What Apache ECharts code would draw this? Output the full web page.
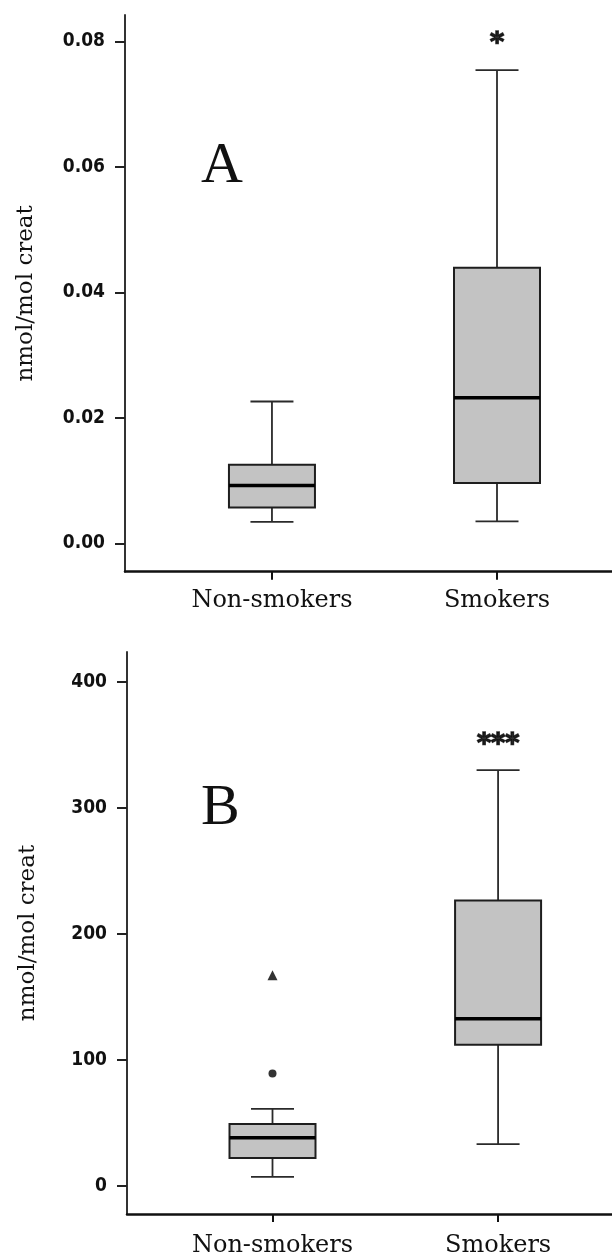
<!DOCTYPE html>
<html>
<head>
<meta charset="utf-8">
<script src="https://cdn.jsdelivr.net/npm/echarts@6/dist/echarts.min.js"></script>
<style>
html,body{margin:0;padding:0;background:#fff;}
#chart{width:612px;height:1258px;}
</style>
</head>
<body>
<div id="chart"></div>
<script>
// ---- data ----
const categories = ['Non-smokers', 'Smokers'];
// box values: [lower whisker, Q1, median, Q3, upper whisker]
const aNonSmokers = [0.0034, 0.0057, 0.0092, 0.0125, 0.0226];
const aSmokers = [0.0035, 0.0096, 0.0232, 0.0439, 0.0754];
const bNonSmokers = [7, 22, 38, 49, 61];
const bSmokers = [33, 112, 132.5, 226.5, 330];
// outliers (Non-smokers, panel B)
const bOutlierCircle = [89];
const bOutlierTriangle = [167];
// tick labels
const aTicks = [0, 0.02, 0.04, 0.06, 0.08];
const bTicks = [0, 100, 200, 300, 400];
// significance marks (Smokers) and their heights
const aSignif = '*';
const aSignifY = 0.0805;
const bSignif = '***';
const bSignifY = 355;
const yTitle = 'nmol/mol creat';

// ---- chart ----
const tickFont = "'DejaVu Sans Condensed', 'DejaVu Sans', sans-serif";
const serif = "'DejaVu Serif', serif";

function renderBox(params, api) {
  const x = api.value(0);
  const lo = api.coord([x, api.value(1)]);
  const q1 = api.coord([x, api.value(2)]);
  const med = api.coord([x, api.value(3)]);
  const q3 = api.coord([x, api.value(4)]);
  const hi = api.coord([x, api.value(5)]);
  const cx = lo[0];
  const bw = 86, cw = 43;
  const wStyle = {stroke: '#2a2a2a', lineWidth: 1.8};
  return {
    type: 'group',
    children: [
      {type: 'line', shape: {x1: cx, y1: hi[1], x2: cx, y2: q3[1]}, style: wStyle},
      {type: 'line', shape: {x1: cx, y1: q1[1], x2: cx, y2: lo[1]}, style: wStyle},
      {type: 'line', shape: {x1: cx - cw / 2, y1: hi[1], x2: cx + cw / 2, y2: hi[1]}, style: wStyle},
      {type: 'line', shape: {x1: cx - cw / 2, y1: lo[1], x2: cx + cw / 2, y2: lo[1]}, style: wStyle},
      {type: 'rect', shape: {x: cx - bw / 2, y: q3[1], width: bw, height: q1[1] - q3[1]},
        style: {fill: '#c3c3c3', stroke: '#1e1e1e', lineWidth: 2}},
      {type: 'line', shape: {x1: cx - bw / 2, y1: med[1], x2: cx + bw / 2, y2: med[1]},
        style: {stroke: '#000', lineWidth: 3.5}}
    ]
  };
}

function xAxisCfg(gi, min, max, margin) {
  return {
    type: 'value', gridIndex: gi, min: min, max: max,
    axisLine: {show: true, onZero: false, lineStyle: {color: '#111', width: 2.5}},
    axisTick: {show: true, customValues: [1, 2], length: 8, lineStyle: {color: '#111', width: 2}},
    axisLabel: {show: true, customValues: [1, 2], margin: margin,
      formatter: v => categories[Math.round(v) - 1] || '',
      fontFamily: serif, fontSize: 24, color: '#111'},
    splitLine: {show: false}
  };
}
function yAxisCfg(gi, min, max, ticks, fmt) {
  return {
    type: 'value', gridIndex: gi, min: min, max: max,
    name: yTitle, nameLocation: 'middle', nameGap: 87, nameRotate: 90,
    nameTextStyle: {fontFamily: serif, fontSize: 23, color: '#111'},
    axisLine: {show: true, onZero: false, lineStyle: {color: '#333', width: 2}},
    axisTick: {show: true, customValues: ticks, length: 10, lineStyle: {color: '#222', width: 2}},
    axisLabel: {show: true, customValues: ticks, margin: 20, formatter: fmt,
      fontFamily: tickFont, fontWeight: 'bold', fontSize: 19, color: '#111'},
    splitLine: {show: false}
  };
}

const starLabel = (txt) => ({
  show: true, position: 'inside', formatter: txt,
  fontFamily: 'DejaVu Sans', fontWeight: 'bold', fontSize: 27, color: '#000',
  textBorderColor: '#000', textBorderWidth: 1.5, offset: [0, 6]
});

const chart = echarts.init(document.getElementById('chart'), null, {renderer: 'canvas'});
chart.setOption({
  animation: false,
  backgroundColor: '#fff',
  grid: [
    {left: 125, right: 0, top: 15, bottom: 686.3},
    {left: 127, right: 0, top: 652, bottom: 43.7}
  ],
  xAxis: [
    xAxisCfg(0, 0.347, 2.511, 17),
    xAxisCfg(1, 0.355, 2.505, 20)
  ],
  yAxis: [
    yAxisCfg(0, -0.00453, 0.0842, aTicks, v => v.toFixed(2)),
    yAxisCfg(1, -22.5, 423.8, bTicks, v => String(v))
  ],
  graphic: [
    {type: 'text', left: 201, top: 138, style: {text: 'A', font: "58px 'Liberation Serif', serif", fill: '#111'}},
    {type: 'text', left: 201, top: 780, style: {text: 'B', font: "58px 'Liberation Serif', serif", fill: '#111'}}
  ],
  series: [
    {type: 'custom', xAxisIndex: 0, yAxisIndex: 0, renderItem: renderBox,
      encode: {x: 0, y: [1, 2, 3, 4, 5]},
      data: [[1].concat(aNonSmokers), [2].concat(aSmokers)]},
    {type: 'custom', xAxisIndex: 1, yAxisIndex: 1, renderItem: renderBox,
      encode: {x: 0, y: [1, 2, 3, 4, 5]},
      data: [[1].concat(bNonSmokers), [2].concat(bSmokers)]},
    {type: 'scatter', xAxisIndex: 1, yAxisIndex: 1, symbol: 'circle', symbolSize: 8,
      itemStyle: {color: '#000'}, data: bOutlierCircle.map(v => [1, v])},
    {type: 'scatter', xAxisIndex: 1, yAxisIndex: 1, symbol: 'triangle', symbolSize: 10,
      itemStyle: {color: '#000'}, data: bOutlierTriangle.map(v => [1, v])},
    {type: 'scatter', xAxisIndex: 0, yAxisIndex: 0, symbolSize: 0,
      label: starLabel(aSignif), data: [[2, aSignifY]]},
    {type: 'scatter', xAxisIndex: 1, yAxisIndex: 1, symbolSize: 0,
      label: starLabel(bSignif), data: [[2, bSignifY]]}
  ]
});
</script>
</body>
</html>
